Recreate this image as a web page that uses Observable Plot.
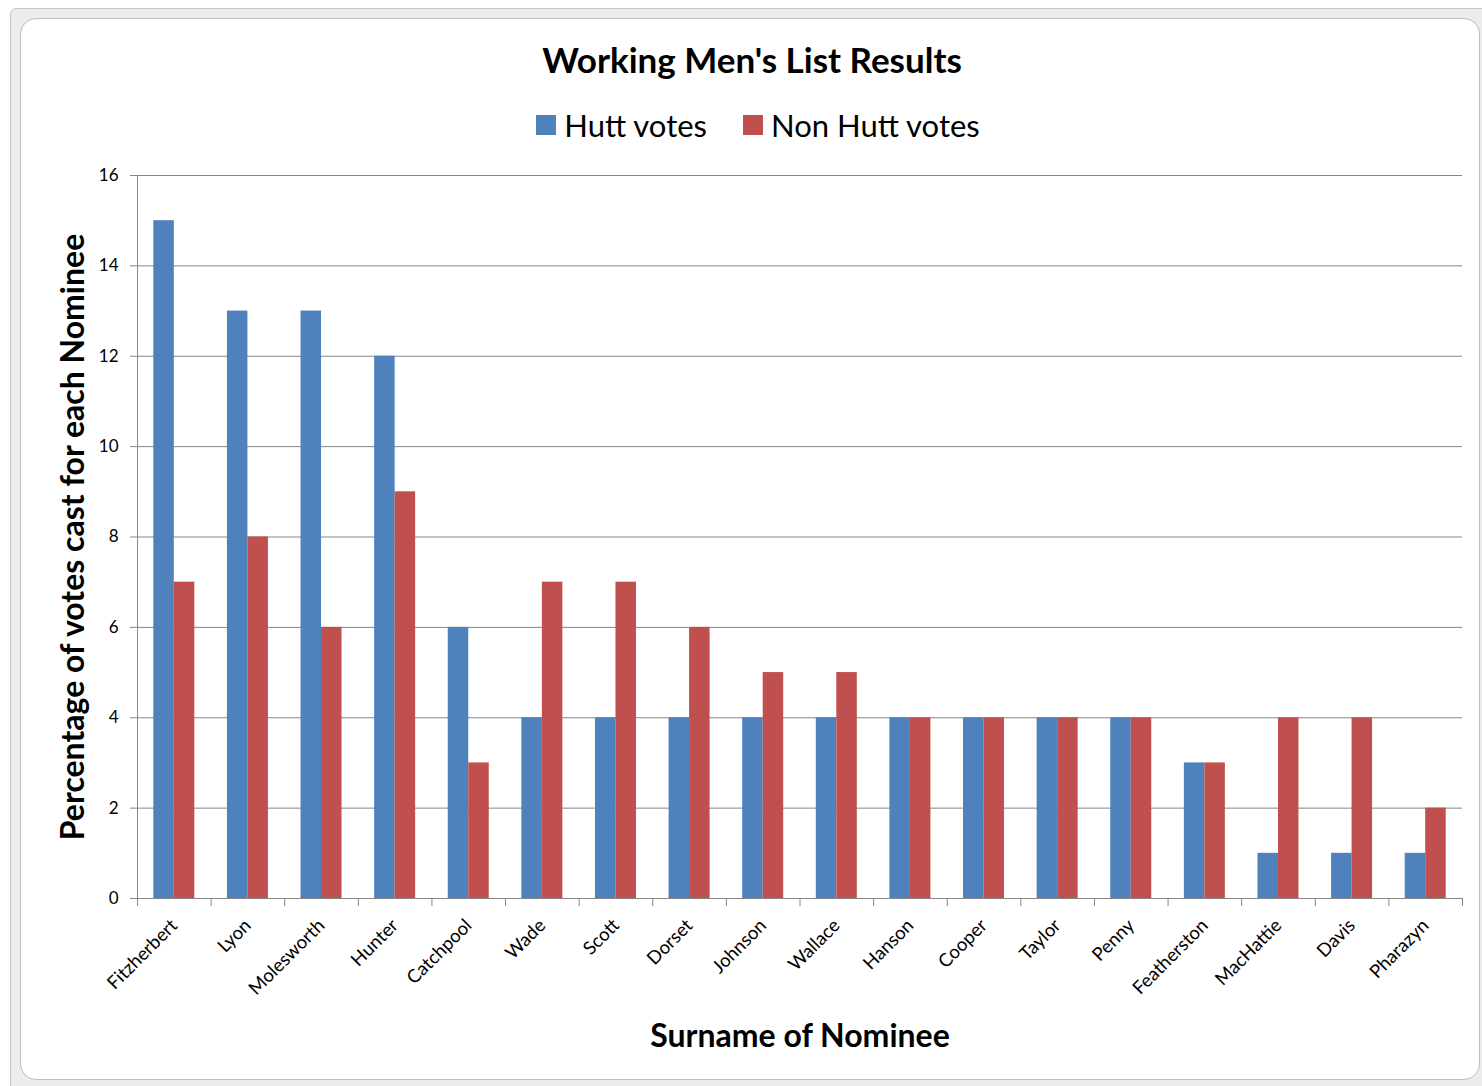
<!DOCTYPE html>
<html><head><meta charset="utf-8">
<script src="https://cdn.jsdelivr.net/npm/d3@7"></script>
<script src="https://cdn.jsdelivr.net/npm/@observablehq/plot@0.6"></script>
<style>
body{margin:0;background:#fff;font-family:Lato,"Open Sans",sans-serif;}
#wrap{position:relative;width:1482px;height:1086px;overflow:hidden;}
#outer{position:absolute;left:10px;top:8px;width:1520px;height:1120px;background:#ececec;border:1px solid #c4c4c4;border-radius:6px;}
#inner{position:absolute;left:20px;top:18px;width:1458px;height:1060px;background:#fff;border:1px solid #bcbcbc;border-radius:16px;}
#title{position:absolute;left:20px;width:1464px;top:38px;text-align:center;font-weight:bold;font-size:35px;color:#000;}
#legend{position:absolute;left:20px;width:1476px;top:104px;text-align:center;font-size:31px;color:#000;white-space:nowrap;}
#legend span.item{display:inline-flex;align-items:center;margin:0 18px;}
#legend span.sw{display:inline-block;width:20px;height:20px;margin-right:8px;}
#ylab{position:absolute;left:71px;top:537px;transform:translate(-50%,-50%) rotate(-90deg);font-weight:bold;font-size:32px;white-space:nowrap;color:#000;}
#xlab{position:absolute;left:800px;top:1034px;transform:translate(-50%,-50%);font-weight:bold;font-size:32px;white-space:nowrap;color:#000;}
#chart{position:absolute;left:0;top:0;}
</style></head>
<body>
<div id="wrap">
  <div id="outer"></div>
  <div id="inner"></div>
  <div id="chart"></div>
  <div id="title"></div>
  <div id="legend"></div>
  <div id="ylab"></div>
  <div id="xlab"></div>
</div>
<script>
const titleText = "Working Men's List Results";
const yLabel = "Percentage of votes cast for each Nominee";
const xLabel = "Surname of Nominee";
const names = ["Fitzherbert","Lyon","Molesworth","Hunter","Catchpool","Wade","Scott","Dorset","Johnson","Wallace","Hanson","Cooper","Taylor","Penny","Featherston","MacHattie","Davis","Pharazyn"];
const hutt = [15,13,13,12,6,4,4,4,4,4,4,4,4,4,3,1,1,1];
const nonHutt = [7,8,6,9,3,7,7,6,5,5,4,4,4,4,3,4,4,2];
const series = ["Hutt votes","Non Hutt votes"];
const colors = ["#4F81BD","#C0504D"];
const yTicks = [0,2,4,6,8,10,12,14,16];

const data = names.flatMap((n,i)=>[
  {name:n, series:series[0], value:hutt[i]},
  {name:n, series:series[1], value:nonHutt[i]}
]);

document.getElementById("title").textContent = titleText;
document.getElementById("ylab").textContent = yLabel;
document.getElementById("xlab").textContent = xLabel;
const leg = document.getElementById("legend");
series.forEach((s,i)=>{
  const it = document.createElement("span"); it.className="item";
  const sw = document.createElement("span"); sw.className="sw"; sw.style.background=colors[i];
  it.appendChild(sw); it.appendChild(document.createTextNode(s)); leg.appendChild(it);
});

const W=1482,H=1086,mL=137,mR=20,mT=175,mB=188;
const bw=(W-mL-mR)/names.length;
const half=20.5;
const axisColor="#868686";

const chart = Plot.plot({
  width:W,height:H,marginLeft:mL,marginRight:mR,marginTop:mT,marginBottom:mB,
  style:{background:"transparent",fontFamily:"Lato, 'Open Sans', sans-serif",fontSize:"16px",color:"#000",overflow:"visible"},
  x:{domain:names,padding:0,round:false,axis:null},
  y:{domain:[0,16],axis:null},
  color:{domain:series,range:colors},
  marks:[
    Plot.gridY(yTicks.filter(d=>d>0),{stroke:axisColor,strokeOpacity:1}),
    Plot.barY(data.filter(d=>d.series===series[0]),{x:"name",y:"value",fill:"series",insetLeft:bw/2-half,insetRight:bw/2}),
    Plot.barY(data.filter(d=>d.series===series[1]),{x:"name",y:"value",fill:"series",insetLeft:bw/2,insetRight:bw/2-half}),
    Plot.ruleY([0],{stroke:axisColor}),
    Plot.ruleX([names[0]],{x:d=>d,dx:-bw/2,y1:0,y2:16,stroke:axisColor}),
    Plot.ruleX(names,{x:d=>d,dx:-bw/2,y1:0,y2:0,insetBottom:-8,stroke:axisColor}),
    Plot.ruleX([names[names.length-1]],{x:d=>d,dx:bw/2,y1:0,y2:0,insetBottom:-8,stroke:axisColor}),
    Plot.axisY({ticks:yTicks,tickSize:7,tickPadding:12,stroke:axisColor,label:null,fontSize:17}),
    Plot.axisX({tickSize:0,tickRotate:-45,tickPadding:24,label:null,fontSize:18.5})
  ]
});
document.getElementById("chart").appendChild(chart);
</script>
</body></html>
